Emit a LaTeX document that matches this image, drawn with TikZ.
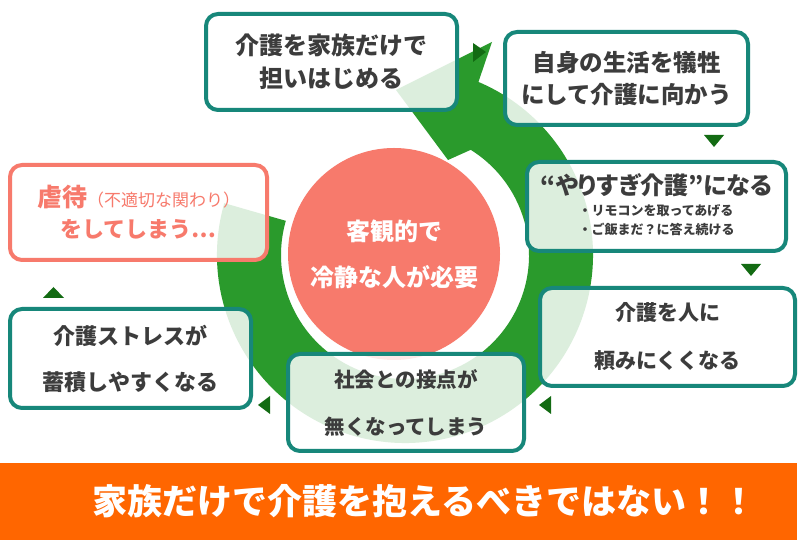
\documentclass[tikz,border=0pt]{standalone}
\usepackage{fontspec}
\setmainfont{Noto Sans CJK JP}
\newfontfamily\propfont{Noto Sans CJK JP}[RawFeature=+palt]
\usepackage{tikz}
\usetikzlibrary{positioning, calc}
\usepackage{xcolor}
\definecolor{tealline}{HTML}{17877A}
\definecolor{ringgreen}{HTML}{2A9A2C}
\definecolor{tipgreen}{HTML}{136B13}
\definecolor{salmon}{HTML}{F77A6C}
\definecolor{textgray}{HTML}{3C3C3C}
\definecolor{bannerorange}{HTML}{FF6600}

\begin{document}
\begin{tikzpicture}[
    x=1pt, y=1pt,
    box/.style={
        rectangle,
        draw=tealline,
        line width=4pt,
        rounded corners=12pt,
        fill=white,
        fill opacity=0.84,
        text opacity=1,
        align=center,
        inner sep=0pt,
        text=textgray
    },
    redbox/.style={box, draw=salmon, text=salmon},
    tri/.style={fill=tipgreen}
]

\fill[white] (0,0) rectangle (800,540);
\useasboundingbox (0,0) rectangle (800,540);

\coordinate (O) at (405,285);
\coordinate (headtip) at (492,498);
\coordinate (headout) at (396,450);
\coordinate (headin) at (448,380);

\fill[ringgreen] ($(O)+(164:188)$) arc[start angle=164, end angle=427, radius=188]
    -- (headtip) -- (headout) -- (headin)
    -- ($(O)+(58:124)$) arc[start angle=58, end angle=-196, radius=124] -- cycle;

\node (kyakkan) [circle, fill=salmon, minimum size=212pt, inner sep=0pt, text=white,
    align=center, font=\bfseries\fontsize{24}{46}\selectfont] at (394,286) {客観的で\\冷静な人が必要};

\node (tantou) [box, minimum width=251pt, minimum height=96pt,
    font=\bfseries\fontsize{24}{33}\selectfont] at (331.5,478) {介護を家族だけで\\担いはじめる};
\node (jishin) [box, minimum width=243pt, minimum height=93pt,
    font=\bfseries\fontsize{23.5}{32}\selectfont] at (626.5,461.5) {自身の生活を犠牲\\にして介護に向かう};
\node (yarisugi) [box, minimum width=259pt, minimum height=89pt,
    font=\bfseries\fontsize{24}{21}\selectfont] at (656.5,333.5)
    {{\propfont\bfseries “やりすぎ介護”になる}\\
     {\fontsize{13}{19}\selectfont\begin{tabular}[t]{@{}l@{}}・リモコンを取ってあげる\\・ご飯まだ？に答え続ける\end{tabular}}};
\node (hito) [box, minimum width=255pt, minimum height=98pt,
    font=\bfseries\fontsize{21}{48}\selectfont] at (667.5,203) {介護を人に\\頼みにくくなる};
\node (shakai) [box, minimum width=236pt, minimum height=97pt,
    font=\bfseries\fontsize{20.5}{47}\selectfont] at (406,137.5) {社会との接点が\\無くなってしまう};
\node (stress) [box, minimum width=241pt, minimum height=99pt,
    font=\bfseries\fontsize{22}{46}\selectfont] at (130.5,181.5) {介護ストレスが\\蓄積しやすくなる};
\node (gyakutai) [redbox, minimum width=257pt, minimum height=95pt,
    font=\bfseries\fontsize{22}{31}\selectfont] at (138.5,327.5)
    {{\fontsize{25}{31}\selectfont 虐待}{\mdseries\fontsize{17}{31}\selectfont （不適切な関わり）}\\をしてしまう…};

\fill[tri] (473,497) -- (486,488) -- (473,478) -- cycle;
\fill[tri] (704,405) -- (724,405) -- (714,393) -- cycle;
\fill[tri] (741,276) -- (761,276) -- (751,264) -- cycle;
\fill[tri] (551,144) -- (551,126) -- (539,135) -- cycle;
\fill[tri] (270,144) -- (270,126) -- (258,135) -- cycle;
\fill[tri] (43,242) -- (64,242) -- (53.5,253) -- cycle;

\node (banner) [rectangle, fill=bannerorange, minimum width=797pt, minimum height=77pt,
    anchor=south west, inner sep=0pt] at (0,0) {};
\node (slogan) [text=white, font=\bfseries\fontsize{35}{40}\selectfont]
    at ([xshift=26pt]banner.center) {家族だけで介護を抱えるべきではない！！};

\end{tikzpicture}
\end{document}
